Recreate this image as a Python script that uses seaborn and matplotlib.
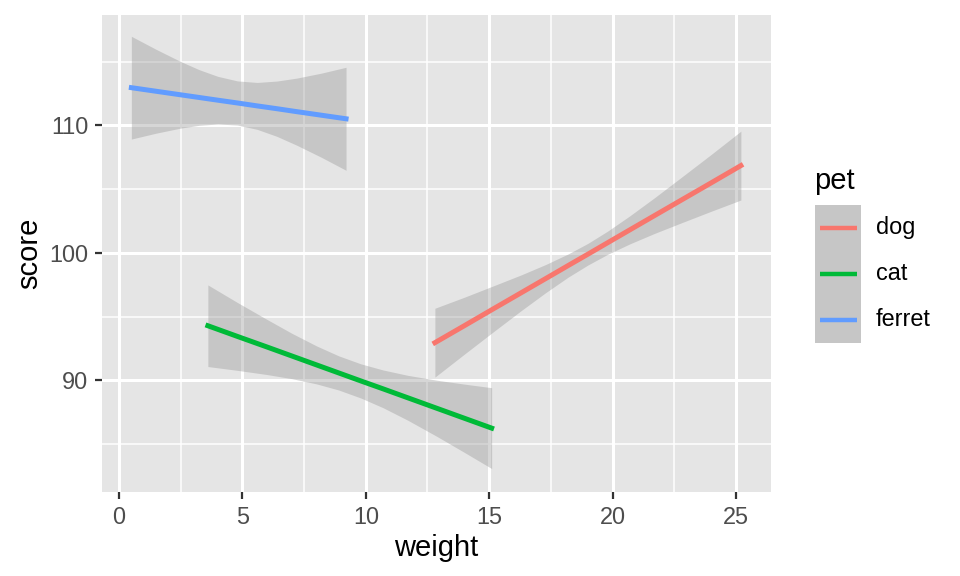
import numpy as np
import pandas as pd
import matplotlib
matplotlib.use("Agg")
import matplotlib.pyplot as plt
from matplotlib.lines import Line2D
from matplotlib.patches import Rectangle
from matplotlib.ticker import MultipleLocator
import seaborn as sns

# ---- data (fitted line and 95% band) ----
pets = ["dog", "cat", "ferret"]
pet_colors = ["#F8766D", "#00BA38", "#619CFF"]

dog_weight = [12.8, 14.0, 15.2, 16.3, 17.3, 18.2, 19.0, 19.8, 20.7, 21.7, 22.8, 24.0, 25.2]
dog_fit    = [92.96, 94.30, 95.65, 96.88, 98.00, 99.01, 99.90, 100.80, 101.81, 102.93, 104.16, 105.50, 106.85]
dog_lower  = [90.26, 92.07, 93.86, 95.48, 96.90, 98.10, 99.05, 99.89, 100.71, 101.53, 102.37, 103.27, 104.15]
dog_upper  = [95.66, 96.53, 97.44, 98.28, 99.10, 99.92, 100.75, 101.71, 102.91, 104.33, 105.95, 107.73, 109.55]

cat_weight = [3.6, 4.8, 6.0, 7.0, 8.0, 8.9, 9.8, 10.7, 11.7, 12.9, 14.0, 15.1]
cat_fit    = [94.29, 93.45, 92.62, 91.92, 91.22, 90.59, 89.96, 89.34, 88.64, 87.80, 87.03, 86.26]
cat_lower  = [91.09, 90.79, 90.46, 90.14, 89.73, 89.25, 88.62, 87.86, 86.88, 85.59, 84.35, 83.09]
cat_upper  = [97.49, 96.11, 94.78, 93.70, 92.71, 91.93, 91.30, 90.82, 90.40, 90.01, 89.71, 89.43]

ferret_weight = [0.5, 1.5, 2.5, 3.25, 4.0, 4.8, 5.6, 6.4, 7.2, 8.2, 9.2]
ferret_fit    = [112.96, 112.68, 112.40, 112.19, 111.98, 111.76, 111.53, 111.31, 111.08, 110.80, 110.52]
ferret_lower  = [108.93, 109.39, 109.79, 110.01, 110.11, 110.03, 109.69, 109.14, 108.45, 107.50, 106.48]
ferret_upper  = [116.99, 115.97, 115.01, 114.37, 113.85, 113.49, 113.37, 113.48, 113.71, 114.10, 114.56]

x_ticks = [0, 5, 10, 15, 20, 25]
y_ticks = [90, 100, 110]

groups = {
    "dog": (dog_weight, dog_fit, dog_lower, dog_upper),
    "cat": (cat_weight, cat_fit, cat_lower, cat_upper),
    "ferret": (ferret_weight, ferret_fit, ferret_lower, ferret_upper),
}

frames = []
for p in pets:
    w, f, lo, hi = groups[p]
    frames.append(pd.DataFrame({"weight": w, "score": f, "lower": lo,
                                "upper": hi, "pet": p}))
df = pd.concat(frames, ignore_index=True)

# ---- figure ----
W, H = 960, 576
fig = plt.figure(figsize=(W / 100, H / 100), dpi=100)
plt.rcParams["font.family"] = ["Liberation Sans", "DejaVu Sans"]

PANEL_BG = "#E5E5E5"
pl, pr, pt, pb = 102, 771, 15, 492
ax = fig.add_axes([pl / W, (H - pb) / H, (pr - pl) / W, (pb - pt) / H])
ax.set_facecolor(PANEL_BG)
for s in ax.spines.values():
    s.set_visible(False)

ax.set_xlim(-0.69, 26.42)
ax.set_ylim(81.25, 118.66)
ax.xaxis.set_minor_locator(MultipleLocator(2.5))
ax.yaxis.set_minor_locator(MultipleLocator(5))
ax.set_xticks(x_ticks)
ax.set_yticks(y_ticks)
ax.grid(which="major", color="white", linewidth=2.2, zorder=0)
ax.grid(which="minor", color="white", linewidth=1.1, zorder=0)
ax.set_axisbelow(True)
ax.tick_params(which="major", length=5, width=1.6, color="#333333",
               labelcolor="#4D4D4D", labelsize=16.9, pad=5)
ax.tick_params(which="minor", length=0)

palette = dict(zip(pets, pet_colors))
for p in pets:
    sub = df[df["pet"] == p]
    ax.fill_between(sub["weight"], sub["lower"], sub["upper"],
                    color="#999999", alpha=0.4, linewidth=0, zorder=2)
sns.lineplot(data=df, x="weight", y="score", hue="pet", hue_order=pets,
             palette=palette, linewidth=3.6, estimator=None, sort=False,
             legend=False, ax=ax, zorder=3)

ax.set_xlabel("weight", fontsize=21, color="black", labelpad=4)
ax.set_ylabel("score", fontsize=21, color="black", labelpad=4)

# ---- legend (ggplot style) ----
def fx(px):
    return px / W

def fy(py):
    return (H - py) / H

fig.text(fx(814), fy(181), "pet", fontsize=21, ha="left", va="center")
key_top, key_h, key_l, key_w = 205, 45.9, 815, 46
for i, (p, c) in enumerate(zip(pets, pet_colors)):
    y0 = key_top + i * key_h
    fig.add_artist(Rectangle((fx(key_l), fy(y0 + key_h)), key_w / W, key_h / H,
                             transform=fig.transFigure, facecolor=PANEL_BG,
                             edgecolor="none"))
    fig.add_artist(Rectangle((fx(key_l), fy(y0 + key_h)), key_w / W, key_h / H,
                             transform=fig.transFigure, facecolor="#999999",
                             alpha=0.4, edgecolor="none"))
    yc = y0 + key_h / 2
    fig.add_artist(Line2D([fx(key_l + 5), fx(key_l + key_w - 4)], [fy(yc), fy(yc)],
                          transform=fig.transFigure, color=c, linewidth=3.2,
                          solid_capstyle="butt"))
    fig.text(fx(876), fy(yc), p, fontsize=16.9, ha="left", va="center")

fig.savefig("out.png", dpi=100, facecolor="white")
